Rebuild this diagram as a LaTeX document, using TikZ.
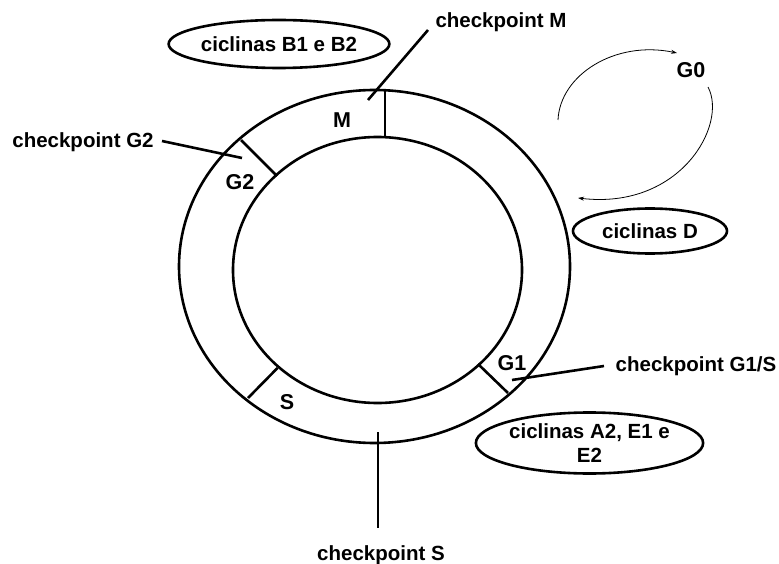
\documentclass[tikz,border=0pt]{standalone}
\usepackage{fontspec}
\setmainfont{Liberation Sans}
\usetikzlibrary{arrows.meta,shapes.geometric}
\begin{document}
\begin{tikzpicture}[x=1pt,y=-1pt,
  thk/.style={line width=2.6pt},
  lbl/.style={font=\fontsize{20.5}{24}\selectfont\bfseries, inner sep=0pt},
  phase/.style={font=\fontsize{21.5}{24}\selectfont\bfseries, inner sep=0pt},
  cyc/.style={draw, ellipse, line width=2.6pt, inner sep=0pt, font=\fontsize{20.5}{24}\selectfont\bfseries, align=center},
  thin arrow/.style={line width=0.8pt, -{Stealth[length=6pt,width=4pt]}}]
\useasboundingbox (0,0) rectangle (779,564);
% cell cycle ring
\draw[thk] (374.5,266.5) ellipse [x radius=195.5, y radius=176.5];
\draw[thk] (377.5,270) ellipse [x radius=144.5, y radius=133];
% dividers
\draw[thk] (385,90) -- (385,137);
\draw[thk] (241,140) -- (277,176);
\draw[thk] (277.5,368) -- (248,398);
\draw[thk] (478,364) -- (508,393);
% phase labels
\node[phase] (m) at (342,120) {M};
\node[phase] (g2) at (240,182) {G2};
\node[phase] (s) at (287,402) {S};
\node[phase] (g1) at (512,363) {G1};
\node[phase] (g0) at (691,70) {G0};
% checkpoint labels
\node[lbl] (cm) at (501,22) {checkpoint M};
\node[lbl] (cg2) at (83,142) {checkpoint G2};
\node[lbl] (cg1) at (696,366) {checkpoint G1/S};
\node[lbl] (cs) at (381,555) {checkpoint S};
% pointer end points
\coordinate (pm1) at (428,30);
\coordinate (pm2) at (368,100);
\coordinate (pg2a) at (162,141);
\coordinate (pg2b) at (242,158);
\coordinate (pg1a) at (604,366);
\coordinate (pg1b) at (512,380);
\coordinate (psa) at (378,432);
\coordinate (psb) at (378,528);
\draw[thk] (pm1) -- (pm2);
\draw[thk] (pg2a) -- (pg2b);
\draw[thk] (pg1a) -- (pg1b);
\draw[thk] (psa) -- (psb);
% cyclins
\node[cyc, minimum width=186pt, minimum height=48pt] (cb) at (279,44) {ciclinas B1 e B2};
\node[cyc, minimum width=154pt, minimum height=45pt] (cd) at (650,231) {ciclinas D};
\node[cyc, minimum width=181pt, minimum height=61pt] (ca) at (589.5,443) {ciclinas A2, E1 e\\E2};
% G0 loop
\coordinate (g0a) at (558,120);
\coordinate (g0b) at (708,87);
\draw[thin arrow] (g0a) .. controls (560,75) and (615,40) .. (677,53);
\draw[thin arrow] (g0b) .. controls (728,125) and (680,210) .. (578,198);
\end{tikzpicture}
\end{document}
